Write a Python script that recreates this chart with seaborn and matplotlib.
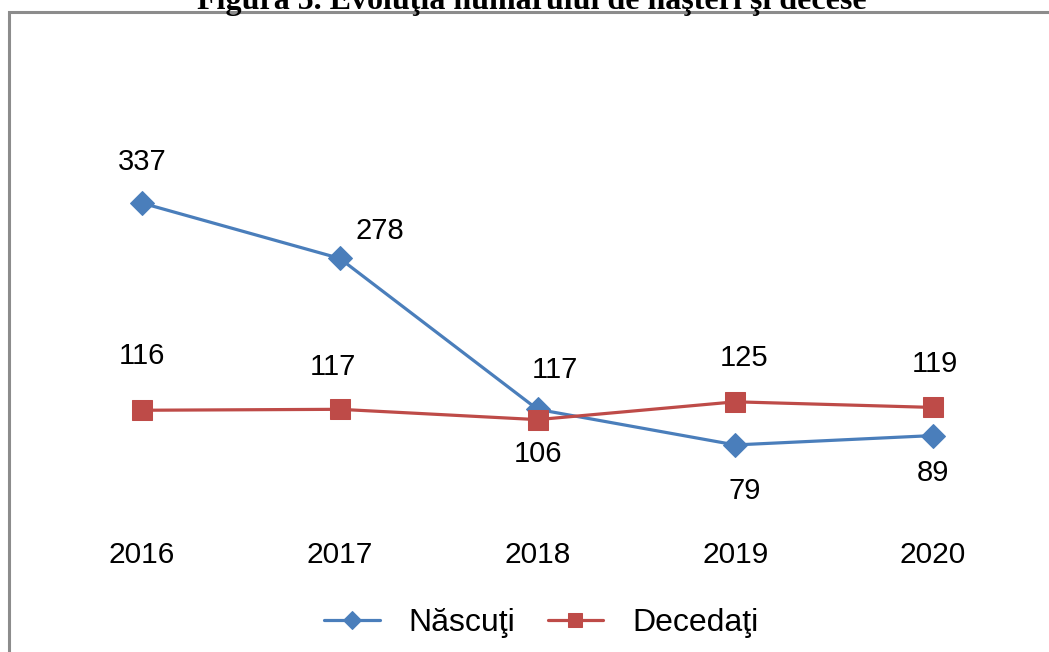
import matplotlib
matplotlib.use("Agg")
import matplotlib.pyplot as plt
import matplotlib.patches as mpatches
import pandas as pd
import seaborn as sns

years = ["2016", "2017", "2018", "2019", "2020"]
nascuti = [337, 278, 117, 79, 89]
decedati = [116, 117, 106, 125, 119]

# label offsets in pixels (dx, dy)
nascuti_offsets = [(0, 41), (40, 27), (17, 39), (9, -46), (0, -37)]
decedati_offsets = [(0, 54), (-7, 42), (0, -34), (9, 44), (2, 43)]

BLUE = "#4a7ebb"
RED = "#be4b48"
FS = 21

sns.set_theme(style="white")
plt.rcParams["font.family"] = ["Liberation Sans", "DejaVu Sans"]

df = pd.DataFrame({"pos": range(len(years)), "an": years,
                   "Născuţi": nascuti, "Decedaţi": decedati})

fig = plt.figure(figsize=(10.49, 6.52), dpi=100)
ax = fig.add_axes([43 / 1049, 1 - 519 / 652, (1032 - 43) / 1049, (519 - 144) / 652])

sns.lineplot(data=df, x="pos", y="Născuţi", ax=ax, color=BLUE, lw=2.3,
             marker="D", markersize=12, markeredgecolor=BLUE, label="Născuţi")
sns.lineplot(data=df, x="pos", y="Decedaţi", ax=ax, color=RED, lw=2.3,
             marker="s", markersize=14, markeredgecolor=RED, label="Decedaţi")

for i in range(len(years)):
    ax.annotate(str(nascuti[i]), (i, nascuti[i]), xytext=nascuti_offsets[i],
                textcoords="offset pixels", ha="center", va="center",
                fontsize=FS, color="black")
    ax.annotate(str(decedati[i]), (i, decedati[i]), xytext=decedati_offsets[i],
                textcoords="offset pixels", ha="center", va="center",
                fontsize=FS, color="black")

ax.set_xlim(-0.5, len(years) - 0.5)
ax.set_ylim(0, 400)
ax.set_xticks(df["pos"])
ax.set_xticklabels(years, fontsize=FS + 0.5, color="black")
ax.tick_params(axis="x", length=0, pad=16)
ax.set_yticks([])
ax.set_xlabel("")
ax.set_ylabel("")
for s in ax.spines.values():
    s.set_visible(False)

handles, labels = ax.get_legend_handles_labels()
ax.get_legend().remove()
leg = fig.legend(handles, labels, loc="center", bbox_to_anchor=(0.516, 1 - 623 / 652),
                 ncol=2, frameon=False, fontsize=23, handlelength=1.75,
                 columnspacing=1.0, handletextpad=0.9, markerscale=0.75)
for t in leg.get_texts():
    t.set_color("black")

# outer frame of the embedded chart
frame = mpatches.Rectangle((9 / 1049, -0.2), 1.2, 1 - 12 / 652 + 0.2,
                           transform=fig.transFigure, fill=False,
                           edgecolor="#8c8c8c", lw=2.2, clip_on=False)
fig.patches.append(frame)

fig.text(532 / 1049, 1 - 9 / 652, "Figura 5. Evoluţia numărului de naşteri şi decese",
         ha="center", va="baseline", fontsize=23, fontweight="bold", color="black",
         family=["Liberation Serif", "DejaVu Serif"])

fig.savefig("out.png", dpi=100)
